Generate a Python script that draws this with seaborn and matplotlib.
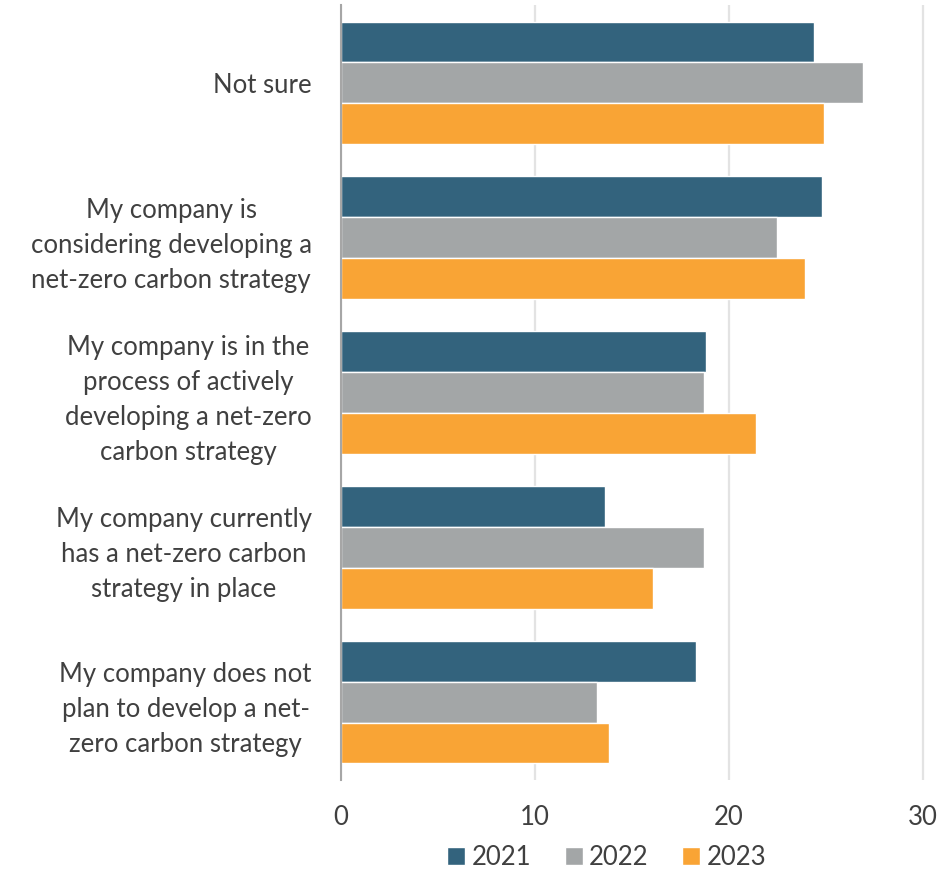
import matplotlib
matplotlib.use("Agg")
import matplotlib.pyplot as plt
import seaborn as sns
import pandas as pd

# Survey responses (% of respondents) by year
categories = [
    "Not sure",
    "My company is\nconsidering developing a\nnet-zero carbon strategy",
    "My company is in the\nprocess of actively\ndeveloping a net-zero\ncarbon strategy",
    "My company currently\nhas a net-zero carbon\nstrategy in place",
    "My company does not\nplan to develop a net-\nzero carbon strategy",
]
years = ["2021", "2022", "2023"]
values_2021 = [24.4, 24.8, 18.8, 13.6, 18.3]
values_2022 = [26.9, 22.5, 18.7, 18.7, 13.2]
values_2023 = [24.9, 23.9, 21.4, 16.1, 13.8]
colors = ["#33637D", "#A3A6A7", "#F9A435"]
x_ticks = [0, 10, 20, 30]

df = pd.DataFrame({
    "category": categories * 3,
    "year": [y for y in years for _ in categories],
    "value": values_2021 + values_2022 + values_2023,
})

sns.set_theme(style="white")
plt.rcParams["font.family"] = ["Lato", "DejaVu Sans"]
text_color = "#404040"

fig = plt.figure(figsize=(9.39, 8.76), dpi=100)
ax = fig.add_axes([0.363, 0.11, 0.625, 0.884])

sns.barplot(
    data=df, y="category", x="value", hue="year", order=categories,
    hue_order=years, palette=colors, orient="h", width=0.79,
    saturation=1, ax=ax, legend=True,
)

ax.set_xlim(0, 30.25)
ax.set_xticks(x_ticks)
ax.set_ylim(len(categories) - 0.5, -0.5)
ax.grid(axis="x", color="#E3E3E3", linewidth=1.6)
ax.set_axisbelow(True)
for side in ["top", "right", "bottom"]:
    ax.spines[side].set_visible(False)
ax.spines["left"].set_color("#A6A6A6")
ax.spines["left"].set_linewidth(1.5)
ax.set_xlabel("")
ax.set_ylabel("")
ax.tick_params(axis="both", length=0, colors=text_color, labelsize=18.5)
ax.tick_params(axis="y", pad=21)
ax.tick_params(axis="x", pad=18)
for lbl in ax.get_yticklabels():
    lbl.set_multialignment("center")
    lbl.set_linespacing(1.5)

handles, labels = ax.get_legend_handles_labels()
ax.get_legend().remove()
fig.legend(
    handles, labels, loc="center", bbox_to_anchor=(0.646, 0.021), ncol=3,
    frameon=False, fontsize=18.5, handlelength=0.7, handleheight=0.7,
    handletextpad=0.25, columnspacing=1.3, labelcolor=text_color,
)

fig.savefig("out.png", dpi=100, facecolor="white")
